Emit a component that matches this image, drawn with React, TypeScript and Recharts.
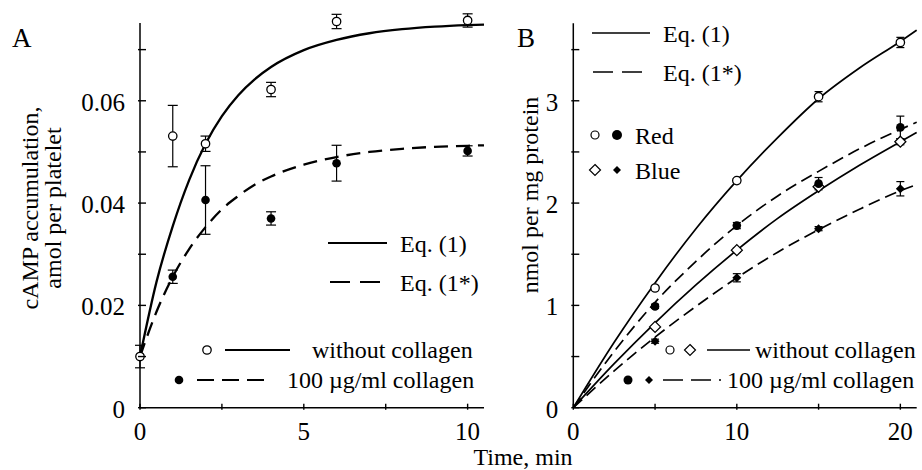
import React from "react";
import { ComposedChart, Line, Scatter, XAxis, YAxis, ErrorBar, ReferenceLine, Legend, Label } from "recharts";

const FONT = "'Liberation Serif', 'Times New Roman', serif";

// ---- Panel A: cAMP accumulation, amol per platelet ----
const aTimes = [0, 1, 2, 4, 6, 10];
const aWithout = [0.01, 0.0531, 0.0516, 0.0622, 0.0755, 0.0757];
const aWithoutErr = [0.0022, 0.006, 0.0015, 0.0014, 0.0014, 0.0013];
const aWith = [0.01, 0.0256, 0.0406, 0.037, 0.0478, 0.0502];
const aWithErr = [0, 0.0013, 0.0067, 0.0013, 0.0035, 0.001];

// fitted curves
const aCurveT = [0, 0.5, 1, 1.5, 2, 2.5, 3, 3.5, 4, 5, 6, 7, 8, 9, 10, 10.5];
const aEq1 = [0.01, 0.0245, 0.0355, 0.0445, 0.0516, 0.057, 0.0611, 0.0642, 0.0666, 0.0699, 0.0719, 0.0732, 0.074, 0.0745, 0.0748, 0.0749];
const aEq1Star = [0.01, 0.0187, 0.0256, 0.031, 0.0353, 0.0388, 0.0414, 0.0436, 0.0452, 0.0475, 0.049, 0.05, 0.0506, 0.051, 0.0512, 0.0513];

const aXTicks = [0, 2.5, 5, 7.5, 10];
const aXLabels = ["0", "", "5", "", "10"];
const aYTicks = [0, 0.01, 0.02, 0.03, 0.04, 0.05, 0.06, 0.07];
const aYLabels = ["0", "", "0.02", "", "0.04", "", "0.06", ""];

// ---- Panel B: nmol per mg protein ----
const bTimes = [5, 10, 15, 20];
const bRedWithout = [1.17, 2.22, 3.04, 3.57];
const bRedWithoutErr = [0.02, 0.02, 0.05, 0.05];
const bRedWith = [0.99, 1.78, 2.19, 2.74];
const bRedWithErr = [0.02, 0.03, 0.06, 0.11];
const bBlueWithout = [0.79, 1.54, 2.16, 2.6];
const bBlueWithoutErr = [0, 0.02, 0, 0.03];
const bBlueWith = [0.65, 1.27, 1.75, 2.14];
const bBlueWithErr = [0.02, 0.04, 0.02, 0.07];

const bCurveT = [0, 2.5, 5, 7.5, 10, 12.5, 15, 17.5, 20, 21];
const bRedEq1 = [0, 0.64, 1.22, 1.75, 2.22, 2.64, 3.02, 3.32, 3.58, 3.69];
const bRedEq1Star = [0, 0.55, 1.03, 1.43, 1.78, 2.07, 2.31, 2.53, 2.72, 2.79];
const bBlueEq1 = [0, 0.43, 0.83, 1.2, 1.54, 1.85, 2.12, 2.37, 2.6, 2.69];
const bBlueEq1Star = [0, 0.36, 0.69, 0.99, 1.27, 1.52, 1.74, 1.94, 2.12, 2.18];

const bXTicks = [0, 5, 10, 15, 20];
const bXLabels = ["0", "", "10", "", "20"];
const bYTicks = [0, 0.5, 1, 1.5, 2, 2.5, 3, 3.5];
const bYLabels = ["0", "", "1", "", "2", "", "3", ""];

const pts = (xs: number[], ys: number[], errs?: number[]) =>
  xs.map((x, i) => ({ x, y: ys[i], err: errs ? errs[i] : 0 }));

// ---- shapes ----
const openCircle = (p: any) => <circle cx={p.cx} cy={p.cy} r={4.2} fill="#fff" stroke="#000" strokeWidth={1.3} />;
const filledCircle = (p: any) => <circle cx={p.cx} cy={p.cy} r={4.3} fill="#000" />;
const diamondPath = (cx: number, cy: number, s: number) => `M${cx},${cy - s}L${cx + s},${cy}L${cx},${cy + s}L${cx - s},${cy}Z`;
const openDiamond = (p: any) => <path d={diamondPath(p.cx, p.cy, 5.5)} fill="#fff" stroke="#000" strokeWidth={1.3} />;
const filledDiamond = (p: any) => <path d={diamondPath(p.cx, p.cy, 4.5)} fill="#000" />;

const txt = { fontFamily: FONT, fill: "#000" };

function YTick(props: any) {
  const { x, y, index, labels } = props;
  return (
    <g>
      <line x1={x} x2={x + 8} y1={y} y2={y} stroke="#000" strokeWidth={1.4} />
      {labels[index] && (
        <text x={x - 13} y={y + 10} textAnchor="end" fontSize={25} {...txt}>
          {labels[index]}
        </text>
      )}
    </g>
  );
}

function XTick(props: any) {
  const { x, y, index, labels } = props;
  return (
    <g>
      <line x1={x} x2={x} y1={y} y2={y - 6} stroke="#000" strokeWidth={1.4} />
      {labels[index] && (
        <text x={x} y={y + 30} textAnchor="middle" fontSize={25} {...txt}>
          {labels[index]}
        </text>
      )}
    </g>
  );
}

function LegendA() {
  return (
    <svg width={500} height={470} style={{ position: "absolute", left: 0, top: 0, overflow: "visible" }}>
      <line x1={328} x2={387} y1={243} y2={243} stroke="#000" strokeWidth={2} />
      <text x={400} y={252} fontSize={24} {...txt}>Eq. (1)</text>
      <line x1={330} x2={380} y1={282} y2={282} stroke="#000" strokeWidth={2} strokeDasharray="20 10" />
      <text x={400} y={291} fontSize={24} {...txt}>Eq. (1*)</text>
      <circle cx={207} cy={350} r={4.2} fill="#fff" stroke="#000" strokeWidth={1.3} />
      <line x1={225} x2={290} y1={350} y2={350} stroke="#000" strokeWidth={2} />
      <text x={312} y={358} fontSize={24} {...txt}>without collagen</text>
      <circle cx={179} cy={380} r={4.3} fill="#000" />
      <line x1={197} x2={264} y1={380} y2={380} stroke="#000" strokeWidth={2} strokeDasharray="17 8" />
      <text x={287} y={388} fontSize={24} {...txt}>100 µg/ml collagen</text>
    </svg>
  );
}

function LegendB() {
  return (
    <svg width={462} height={470} style={{ position: "absolute", left: 0, top: 0, overflow: "visible" }}>
      <line x1={132} x2={190} y1={33} y2={33} stroke="#000" strokeWidth={1.6} />
      <text x={203} y={42} fontSize={24} {...txt}>Eq. (1)</text>
      <line x1={133} x2={182} y1={72} y2={72} stroke="#000" strokeWidth={1.6} strokeDasharray="20 9" />
      <text x={203} y={81} fontSize={24} {...txt}>Eq. (1*)</text>
      <circle cx={135} cy={135} r={4} fill="#fff" stroke="#000" strokeWidth={1.2} />
      <circle cx={157} cy={135} r={5} fill="#000" />
      <text x={175} y={144} fontSize={24} {...txt}>Red</text>
      <path d={diamondPath(135, 170, 5.5)} fill="#fff" stroke="#000" strokeWidth={1.2} />
      <path d={diamondPath(157, 170, 4)} fill="#000" />
      <text x={175} y={179} fontSize={24} {...txt}>Blue</text>
      <circle cx={210} cy={350} r={4} fill="#fff" stroke="#000" strokeWidth={1.2} />
      <path d={diamondPath(230, 350, 5.5)} fill="#fff" stroke="#000" strokeWidth={1.2} />
      <line x1={247} x2={290} y1={350} y2={350} stroke="#000" strokeWidth={1.6} />
      <text x={295} y={358} fontSize={24} {...txt}>without collagen</text>
      <circle cx={168} cy={380} r={4.5} fill="#000" />
      <path d={diamondPath(189, 380, 4)} fill="#000" />
      <line x1={203} x2={261} y1={380} y2={380} stroke="#000" strokeWidth={1.6} strokeDasharray="20 8 20 8 2 10" />
      <text x={267} y={388} fontSize={24} {...txt}>100 µg/ml collagen</text>
    </svg>
  );
}

function TitleA() {
  return (
    <g>
      <text x={12} y={47} fontSize={27} {...txt}>A</text>
      <text transform="translate(38,208) rotate(-90)" textAnchor="middle" fontSize={24} {...txt}>cAMP accumulation,</text>
      <text transform="translate(61,208) rotate(-90)" textAnchor="middle" fontSize={24} {...txt}>amol per platelet</text>
    </g>
  );
}

function TitleB() {
  return (
    <g>
      <text x={57} y={47} fontSize={27} {...txt}>B</text>
      <text transform="translate(78,195) rotate(-90)" textAnchor="middle" fontSize={24} {...txt}>nmol per mg protein</text>
    </g>
  );
}

function PanelA() {
  return (
    <ComposedChart width={500} height={470} margin={{ top: 8.7, right: 16, bottom: 0, left: 0 }}>
      <XAxis
        type="number"
        dataKey="x"
        domain={[0, 10.5]}
        ticks={aXTicks}
        interval={0}
        height={62.3}
        tickSize={0}
        tickLine={false}
        axisLine={{ stroke: "#000", strokeWidth: 1.5 }}
        tick={(p: any) => <XTick {...p} labels={aXLabels} />}
      />
      <YAxis
        type="number"
        dataKey="y"
        domain={[0, 0.078]}
        ticks={aYTicks}
        interval={0}
        width={140}
        tickSize={0}
        tickLine={false}
        axisLine={false}
        tick={(p: any) => <YTick {...p} labels={aYLabels} />}
      >
        <Label content={() => <TitleA />} />
      </YAxis>
      <ReferenceLine segment={[{ x: 0, y: 0 }, { x: 0, y: 0.0752 }]} stroke="#000" strokeWidth={1.5} />
      <Line data={pts(aCurveT, aEq1)} dataKey="y" type="monotone" dot={false} stroke="#000" strokeWidth={2.3} isAnimationActive={false} />
      <Line data={pts(aCurveT, aEq1Star)} dataKey="y" type="monotone" dot={false} stroke="#000" strokeWidth={2.3} strokeDasharray="14 8" isAnimationActive={false} />
      <Scatter data={pts(aTimes, aWith, aWithErr)} dataKey="y" shape={filledCircle} isAnimationActive={false}>
        <ErrorBar dataKey="err" direction="y" width={5} stroke="#000" strokeWidth={1.2} />
      </Scatter>
      <Scatter data={pts(aTimes, aWithout, aWithoutErr)} dataKey="y" shape={openCircle} isAnimationActive={false}>
        <ErrorBar dataKey="err" direction="y" width={5} stroke="#000" strokeWidth={1.2} />
      </Scatter>
      <Legend layout="vertical" align="center" verticalAlign="middle" wrapperStyle={{ left: 0, top: 0, width: 500, height: 470, margin: 0 }} content={() => <LegendA />} />
    </ComposedChart>
  );
}

function PanelB() {
  return (
    <ComposedChart width={462} height={470} margin={{ top: 8.7, right: 5.3, bottom: 0, left: 0 }}>
      <XAxis
        type="number"
        dataKey="x"
        domain={[0, 21]}
        ticks={bXTicks}
        interval={0}
        height={62.3}
        tickSize={0}
        tickLine={false}
        axisLine={{ stroke: "#000", strokeWidth: 1.5 }}
        tick={(p: any) => <XTick {...p} labels={bXLabels} />}
      >
        <Label content={() => <text x={63} y={464.7} textAnchor="middle" fontSize={24} {...txt}>Time, min</text>} />
      </XAxis>
      <YAxis
        type="number"
        dataKey="y"
        domain={[0, 3.9]}
        ticks={bYTicks}
        interval={0}
        width={113.3}
        tickSize={0}
        tickLine={false}
        axisLine={false}
        tick={(p: any) => <YTick {...p} labels={bYLabels} />}
      >
        <Label content={() => <TitleB />} />
      </YAxis>
      <ReferenceLine segment={[{ x: 0, y: 0 }, { x: 0, y: 3.757 }]} stroke="#000" strokeWidth={1.5} />
      <Line data={pts(bCurveT, bRedEq1)} dataKey="y" type="monotone" dot={false} stroke="#000" strokeWidth={1.7} isAnimationActive={false} />
      <Line data={pts(bCurveT, bBlueEq1)} dataKey="y" type="monotone" dot={false} stroke="#000" strokeWidth={1.7} isAnimationActive={false} />
      <Line data={pts(bCurveT, bRedEq1Star)} dataKey="y" type="monotone" dot={false} stroke="#000" strokeWidth={1.7} strokeDasharray="12 6" isAnimationActive={false} />
      <Line data={pts(bCurveT, bBlueEq1Star)} dataKey="y" type="monotone" dot={false} stroke="#000" strokeWidth={1.7} strokeDasharray="12 6" isAnimationActive={false} />
      <Scatter data={pts(bTimes, bBlueWithout, bBlueWithoutErr)} dataKey="y" shape={openDiamond} isAnimationActive={false}>
        <ErrorBar dataKey="err" direction="y" width={4} stroke="#000" strokeWidth={1.2} />
      </Scatter>
      <Scatter data={pts(bTimes, bRedWithout, bRedWithoutErr)} dataKey="y" shape={openCircle} isAnimationActive={false}>
        <ErrorBar dataKey="err" direction="y" width={4} stroke="#000" strokeWidth={1.2} />
      </Scatter>
      <Scatter data={pts(bTimes, bRedWith, bRedWithErr)} dataKey="y" shape={filledCircle} isAnimationActive={false}>
        <ErrorBar dataKey="err" direction="y" width={4} stroke="#000" strokeWidth={1.2} />
      </Scatter>
      <Scatter data={pts(bTimes, bBlueWith, bBlueWithErr)} dataKey="y" shape={filledDiamond} isAnimationActive={false}>
        <ErrorBar dataKey="err" direction="y" width={4} stroke="#000" strokeWidth={1.2} />
      </Scatter>
      <Legend layout="vertical" align="center" verticalAlign="middle" wrapperStyle={{ left: 0, top: 0, width: 462, height: 470, margin: 0 }} content={() => <LegendB />} />
    </ComposedChart>
  );
}

export default function App() {
  return (
    <div style={{ position: "absolute", left: 0, top: 0, width: 922, height: 470, background: "#fff" }}>
      <div style={{ position: "absolute", left: 0, top: 0 }}>
        <PanelA />
      </div>
      <div style={{ position: "absolute", left: 460, top: 0 }}>
        <PanelB />
      </div>
    </div>
  );
}
